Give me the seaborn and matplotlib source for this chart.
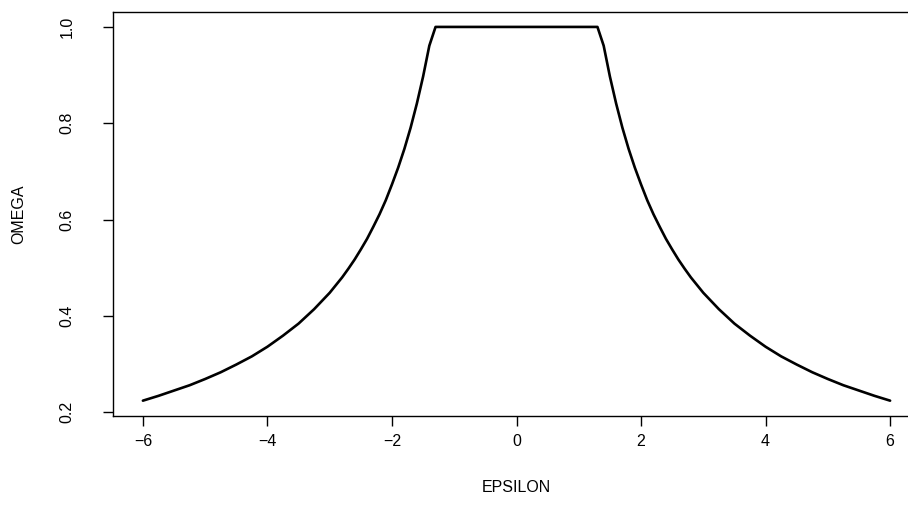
import matplotlib
matplotlib.use("Agg")
import matplotlib.pyplot as plt
import seaborn as sns
import pandas as pd

epsilon_right = [1.3, 1.4, 1.5, 1.6, 1.7, 1.8, 1.9, 2.0, 2.1, 2.2, 2.3, 2.4, 2.5, 2.6,
                 2.7, 2.8, 2.9, 3.0, 3.25, 3.5, 3.75, 4.0, 4.25, 4.5, 4.75, 5.0, 5.25,
                 5.5, 5.75, 6.0]
omega_right = [1.0, 0.961, 0.897, 0.841, 0.791, 0.747, 0.708, 0.673, 0.640, 0.611, 0.585,
               0.560, 0.538, 0.517, 0.498, 0.480, 0.464, 0.448, 0.414, 0.384, 0.359, 0.336,
               0.316, 0.299, 0.283, 0.269, 0.256, 0.245, 0.234, 0.224]
epsilon_left = [-6.0, -5.75, -5.5, -5.25, -5.0, -4.75, -4.5, -4.25, -4.0, -3.75, -3.5,
                -3.25, -3.0, -2.9, -2.8, -2.7, -2.6, -2.5, -2.4, -2.3, -2.2, -2.1, -2.0,
                -1.9, -1.8, -1.7, -1.6, -1.5, -1.4, -1.3, 0.0]
omega_left = [0.224, 0.234, 0.245, 0.256, 0.269, 0.283, 0.299, 0.316, 0.336, 0.359, 0.384,
              0.414, 0.448, 0.464, 0.480, 0.498, 0.517, 0.538, 0.560, 0.585, 0.611, 0.640,
              0.673, 0.708, 0.747, 0.791, 0.841, 0.897, 0.961, 1.0, 1.0]
x_ticks = [-6, -4, -2, 0, 2, 4, 6]
x_tick_labels = ["\u22126", "\u22124", "\u22122", "0", "2", "4", "6"]
y_ticks = [0.2, 0.4, 0.6, 0.8, 1.0]
y_tick_labels = ["0.2", "0.4", "0.6", "0.8", "1.0"]

df = pd.DataFrame({"EPSILON": epsilon_left + epsilon_right,
                   "OMEGA": omega_left + omega_right})

sns.set_theme(style="ticks")
plt.rcParams["font.family"] = ["Liberation Sans", "DejaVu Sans"]

W, H = 908, 519
fig = plt.figure(figsize=(W / 100, H / 100), dpi=100)
left, right, top, bottom = 113, 920, 12, 415.6
ax = fig.add_axes([left / W, 1 - bottom / H, (right - left) / W, (bottom - top) / H])

sns.lineplot(data=df, x="EPSILON", y="OMEGA", ax=ax, color="black", linewidth=1.9,
             sort=False, estimator=None)

ax.set_xlim(-6.48, 6.48)
ax.set_ylim(0.193, 1.031)
ax.set_xticks(x_ticks)
ax.set_xticklabels(x_tick_labels)
ax.set_yticks(y_ticks)
ax.set_yticklabels(y_tick_labels, rotation=90, va="center")
for s in ax.spines.values():
    s.set_color("black")
    s.set_linewidth(1.0)
ax.tick_params(axis="both", direction="out", length=7.5, width=1.0, color="black",
               labelsize=11.5, labelcolor="black")
ax.tick_params(axis="x", pad=6)
ax.tick_params(axis="y", pad=20)
ax.set_xlabel("EPSILON", fontsize=11.5, color="black", labelpad=22)
ax.set_ylabel("OMEGA", fontsize=11.5, color="black", labelpad=24)
ax.grid(False)

fig.savefig("out.png", dpi=100, facecolor="white")
